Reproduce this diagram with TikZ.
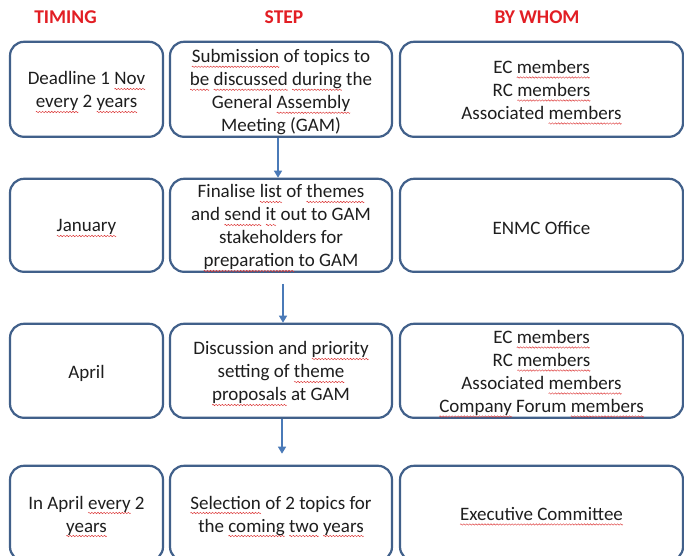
\documentclass[tikz,border=0pt]{standalone}
\usepackage{fontspec}
\setmainfont{Carlito}
\usetikzlibrary{arrows.meta}
\definecolor{boxline}{RGB}{65,96,138}
\definecolor{arrowblue}{RGB}{74,122,184}
\definecolor{headred}{RGB}{226,30,36}
\definecolor{squig}{RGB}{220,50,50}
\definecolor{txt}{RGB}{30,30,30}
\newsavebox\wavebox
\newcommand\makewave{\sbox\wavebox{\begin{pgfpicture}%
  \pgfpathrectangle{\pgfpoint{0pt}{-0.8pt}}{\pgfpoint{3pt}{1.6pt}}\pgfusepath{use as bounding box}%
  \pgfsetcolor{squig}\pgfsetlinewidth{0.45pt}%
  \pgfpathmoveto{\pgfpoint{0pt}{0pt}}%
  \pgfpathsine{\pgfpoint{0.75pt}{0.7pt}}\pgfpathcosine{\pgfpoint{0.75pt}{-0.7pt}}%
  \pgfpathsine{\pgfpoint{0.75pt}{-0.7pt}}\pgfpathcosine{\pgfpoint{0.75pt}{0.7pt}}%
  \pgfusepath{stroke}\end{pgfpicture}}}
\newcommand\sq[1]{\setbox0\hbox{#1}\rlap{\raisebox{-4.8pt}{\hbox to \wd0{\xleaders\copy\wavebox\hfil}}}\box0\relax}
\tikzset{
  box/.style={draw=boxline, line width=2.2pt, rounded corners=14pt, fill=white, inner sep=0pt},
  lbl/.style={align=center, text=txt, font=\fontsize{19}{23}\selectfont, inner sep=0pt, yshift=-3pt},
  head/.style={text=headred, font=\bfseries\fontsize{19.5}{22}\selectfont},
  arr/.style={draw=arrowblue, line width=1.3pt, -{Triangle[width=8pt,length=7pt]}}
}
\begin{document}
\begin{tikzpicture}[x=1pt,y=-1pt]
\makewave
\useasboundingbox (0,0) rectangle (684,555);
\clip (0,0) rectangle (684,555);
\fill[white] (0,0) rectangle (684,555);
% headers
\node[head] (h1) at (65.5,16) {TIMING};
\node[head] (h2) at (284,16) {STEP};
\node[head] (h3) at (537,16) {BY WHOM};
% boxes
\node[box, minimum width=153pt, minimum height=95pt] (t1) at (86.5,88.5) {};
\node[box, minimum width=222pt, minimum height=95pt] (s1) at (281,88.5) {};
\node[box, minimum width=283pt, minimum height=95pt] (w1) at (541.5,88.5) {};
\node[box, minimum width=153pt, minimum height=93pt] (t2) at (86.5,224.5) {};
\node[box, minimum width=222pt, minimum height=93pt] (s2) at (281,224.5) {};
\node[box, minimum width=283pt, minimum height=93pt] (w2) at (541.5,224.5) {};
\node[box, minimum width=153pt, minimum height=94pt] (t3) at (86.5,370) {};
\node[box, minimum width=222pt, minimum height=94pt] (s3) at (281,370) {};
\node[box, minimum width=283pt, minimum height=94pt] (w3) at (541.5,370) {};
\node[box, minimum width=153pt, minimum height=95pt] (t4) at (86.5,512.5) {};
\node[box, minimum width=222pt, minimum height=95pt] (s4) at (281,512.5) {};
\node[box, minimum width=283pt, minimum height=95pt] (w4) at (541.5,512.5) {};
% texts
\node[lbl] (t1x) at (t1.center) {Deadline 1 \sq{Nov}\\ \sq{every} 2 \sq{years}};
\node[lbl] (s1x) at (s1.center) {\sq{Submission} of topics to\\ \sq{be} \sq{discussed} \sq{during} the\\ General \sq{Assembly}\\ Meeting (GAM)};
\node[lbl] (w1x) at (w1.center) {EC \sq{members}\\ RC \sq{members}\\ Associated \sq{members}};
\node[lbl] (t2x) at (t2.center) {\sq{January}};
\node[lbl] (s2x) at (s2.center) {Finalise \sq{list} of \sq{themes}\\ and \sq{send} \sq{it} out to GAM\\ stakeholders for\\ \sq{preparation} to GAM};
\node[lbl] (w2x) at (w2.center) {ENMC Office};
\node[lbl] (t3x) at (t3.center) {April};
\node[lbl] (s3x) at (s3.center) {Discussion and \sq{priority}\\ setting of \sq{theme}\\ \sq{proposals} at GAM};
\node[lbl] (w3x) at (w3.center) {EC \sq{members}\\ RC \sq{members}\\ Associated \sq{members}\\ \sq{Company} Forum \sq{members}};
\node[lbl] (t4x) at (t4.center) {In April \sq{every} 2\\ \sq{years}};
\node[lbl] (s4x) at (s4.center) {\sq{Selection} of 2 topics for\\ the \sq{coming} \sq{two} \sq{years}};
\node[lbl] (w4x) at (w4.center) {\sq{Executive Committee}};
% arrows
\draw[arr] ([xshift=-3pt]s1.south) -- ([xshift=-3pt]s2.north);
\draw[arr] ([xshift=2pt,yshift=-11pt]s2.south) -- ([xshift=2pt]s3.north);
\draw[arr] ([xshift=1pt]s3.south) -- ([xshift=1pt,yshift=11pt]s4.north);
\end{tikzpicture}
\end{document}
